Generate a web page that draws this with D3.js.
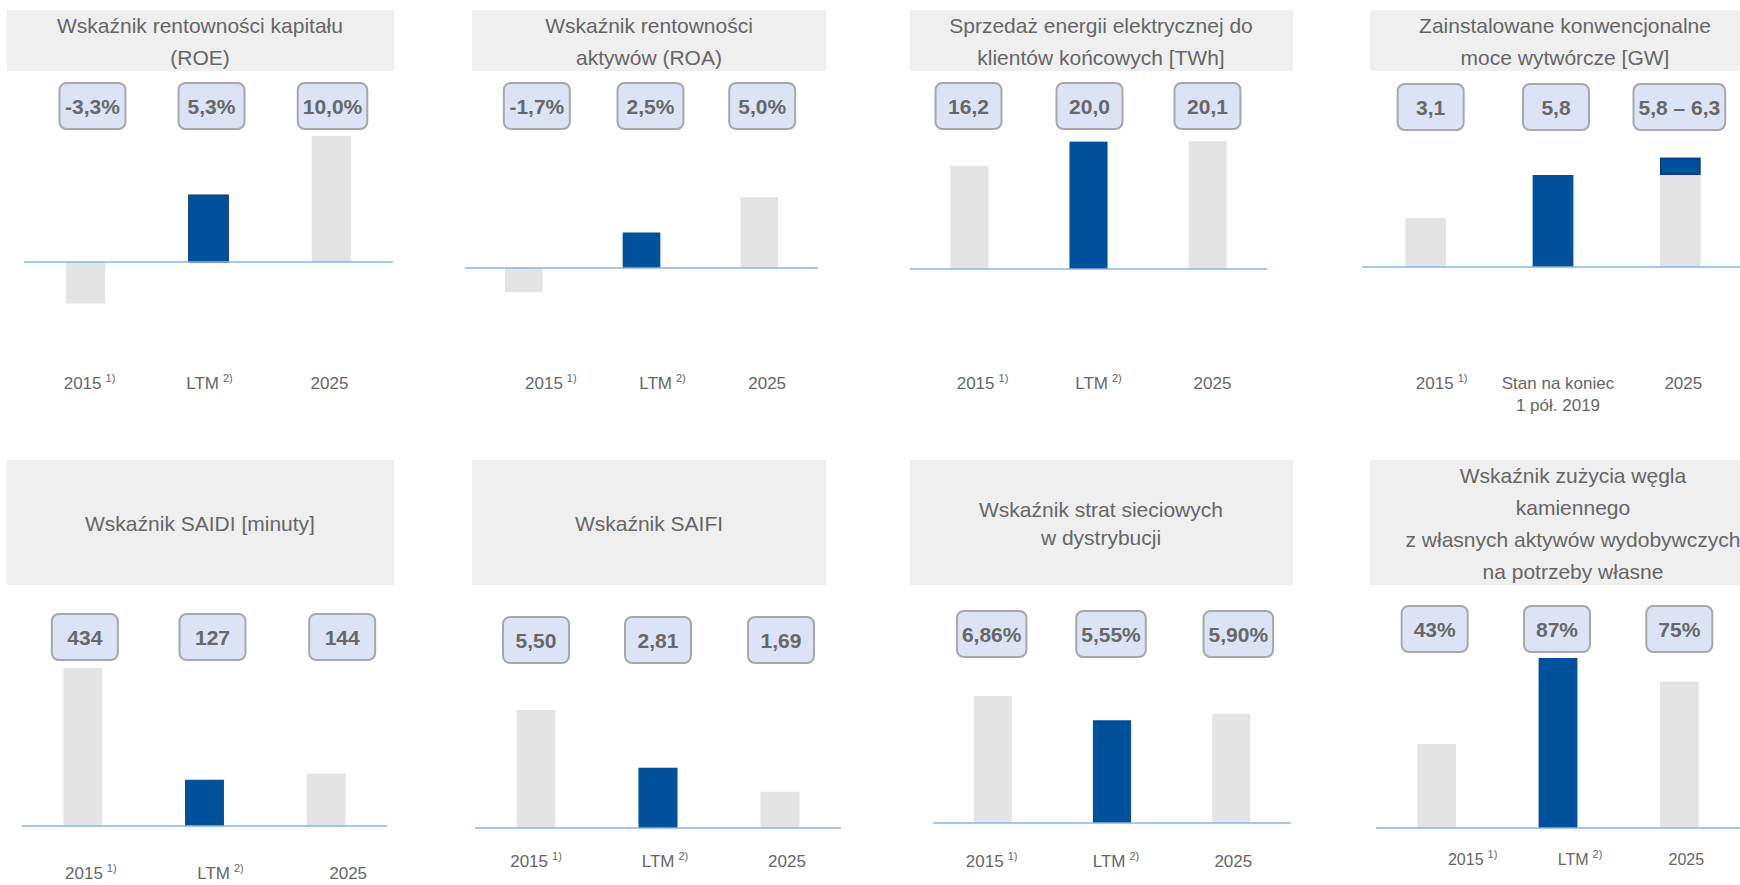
<!DOCTYPE html>
<html>
<head>
<meta charset="utf-8">
<script src="https://cdn.jsdelivr.net/npm/d3@7"></script>
<style>
  body { margin: 0; background: #fff; }
</style>
</head>
<body>
<script>
// categories shared by all eight small charts
const categories = ["2015", "LTM", "2025"];
const categoryNotes = ["1)", "2)", ""];
const capacityCategoryLines = [["2015"], ["Stan na koniec", "1 pół. 2019"], ["2025"]];

// values and their printed labels
const roeValues = [-3.3, 5.3, 10.0];
const roeLabels = ["-3,3%", "5,3%", "10,0%"];
const roaValues = [-1.7, 2.5, 5.0];
const roaLabels = ["-1,7%", "2,5%", "5,0%"];
const salesValues = [16.2, 20.0, 20.1];
const salesLabels = ["16,2", "20,0", "20,1"];
const capacityValues = [3.1, 5.8, 5.8];
const capacityRange = [5.8, 6.9]; // target range bar as drawn in the source
const capacityLabels = ["3,1", "5,8", "5,8 – 6,3"];
const saidiValues = [434, 127, 144];
const saidiLabels = ["434", "127", "144"];
const saifiValues = [5.50, 2.81, 1.69];
const saifiLabels = ["5,50", "2,81", "1,69"];
const lossValues = [6.86, 5.55, 5.90];
const lossLabels = ["6,86%", "5,55%", "5,90%"];
const coalValues = [43, 87, 75];
const coalLabels = ["43%", "87%", "75%"];

const titles = [
  ["Wskaźnik rentowności kapitału", "(ROE)"],
  ["Wskaźnik rentowności", "aktywów (ROA)"],
  ["Sprzedaż energii elektrycznej do", "klientów końcowych [TWh]"],
  ["Zainstalowane konwencjonalne", "moce wytwórcze [GW]"],
  ["Wskaźnik SAIDI [minuty]"],
  ["Wskaźnik SAIFI"],
  ["Wskaźnik strat sieciowych", "w dystrybucji"],
  ["Wskaźnik zużycia węgla", "kamiennego", "z własnych aktywów wydobywczych", "na potrzeby własne"]
];

const W = 1740, H = 885;
const blue = "#00519b", grey = "#e4e4e4", textGrey = "#666666";

// layout of each panel (pixels)
const panels = [
  { title: titles[0], values: roeValues, labels: roeLabels, box: [7, 394, 10, 71], titleX: 200, lineH: 32,
    xr: [24, 393], base: 262, top: 136, labelY: 106, labelDx: [7, 3, 1], catY: 389, catDx: [4, 1, -2], outline: true },
  { title: titles[1], values: roaValues, labels: roaLabels, box: [472, 826, 10, 71], titleX: 649, lineH: 32,
    xr: [465, 818], base: 268, top: 197, labelY: 106, labelDx: [13, 9, 3], catY: 389, catDx: [27, 21, 8] },
  { title: titles[2], values: salesValues, labels: salesLabels, box: [910, 1293, 10, 71], titleX: 1101, lineH: 32,
    xr: [910, 1267], base: 269, top: 141, labelY: 106, labelDx: [-1, 1, 0], catY: 389, catDx: [13, 10, 5] },
  { title: titles[3], values: capacityValues, labels: capacityLabels, box: [1370, 1760, 10, 71], titleX: 1565, lineH: 32,
    xr: [1362, 1744], base: 267, top: 175, labelY: 107, labelDx: [5, 3, -1], catY: 389, catDx: [16, 5, 3],
    range: capacityRange, catLines: capacityCategoryLines },
  { title: titles[4], values: saidiValues, labels: saidiLabels, box: [7, 394, 460, 585], titleX: 200, lineH: 32,
    xr: [22, 387], base: 826, top: 668, labelY: 637, labelDx: [2, 8, 16], catY: 879, catDx: [8, 16, 22] },
  { title: titles[5], values: saifiValues, labels: saifiLabels, box: [472, 826, 460, 585], titleX: 649, lineH: 32,
    xr: [475, 841], base: 828, top: 710, labelY: 640, labelDx: [0, 0, 1], catY: 867, catDx: [0, 7, 7] },
  { title: titles[6], values: lossValues, labels: lossLabels, box: [910, 1293, 460, 585], titleX: 1101, lineH: 28,
    xr: [933, 1291], base: 823, top: 696, labelY: 634, labelDx: [-1, -1, 7], catY: 867, catDx: [-1, 4, 2] },
  { title: titles[7], values: coalValues, labels: coalLabels, box: [1370, 1760, 460, 585], titleX: 1573, lineH: 32,
    xr: [1376, 1740], base: 828, top: 658, labelY: 629, labelDx: [-2, -1, 0], catY: 865, catDx: [36, 22, 7], catSize: 16 }
];

const svg = d3.select("body").append("svg")
  .attr("width", W)
  .attr("height", H)
  .style("font-family", "'Liberation Sans', Arial, sans-serif");

panels.forEach(p => {
  const g = svg.append("g");

  // title box
  g.append("rect")
    .attr("x", p.box[0]).attr("y", p.box[2])
    .attr("width", p.box[1] - p.box[0]).attr("height", p.box[3] - p.box[2])
    .attr("fill", "#efefef");

  const cy = (p.box[2] + p.box[3]) / 2;
  p.title.forEach((t, i) => {
    g.append("text")
      .attr("x", p.titleX)
      .attr("y", cy + (i - (p.title.length - 1) / 2) * p.lineH + 8)
      .attr("text-anchor", "middle")
      .attr("font-size", 21)
      .attr("fill", textGrey)
      .text(t);
  });

  const x = d3.scalePoint().domain(categories).range(p.xr).padding(0.5);
  const bw = x.step() * 0.32;
  const y = d3.scaleLinear().domain([0, d3.max(p.values)]).range([p.base, p.top]);

  // bars
  g.selectAll(".bar")
    .data(p.values)
    .join("rect")
    .attr("class", "bar")
    .attr("x", (d, i) => x(categories[i]) - bw / 2)
    .attr("y", d => Math.min(y(0), y(d)))
    .attr("width", bw)
    .attr("height", d => Math.abs(y(d) - y(0)))
    .attr("fill", (d, i) => i === 1 ? blue : grey)
    .attr("stroke", (d, i) => (i === 1 && p.outline) ? "#1b3c8c" : "none")
    .attr("stroke-width", 1.5);

  // range segment on top of the 2025 bar
  if (p.range) {
    g.append("rect")
      .attr("x", x(categories[2]) - bw / 2 + 1)
      .attr("y", y(p.range[1]) + 1)
      .attr("width", bw - 2)
      .attr("height", y(p.range[0]) - y(p.range[1]) - 2)
      .attr("fill", blue)
      .attr("stroke", "#123a8a")
      .attr("stroke-width", 2);
  }

  // baseline
  g.append("line")
    .attr("x1", p.xr[0]).attr("x2", p.xr[1])
    .attr("y1", y(0)).attr("y2", y(0))
    .attr("stroke", "#86b4e4")
    .attr("stroke-width", 1.5);

  // value callouts
  p.labels.forEach((lab, i) => {
    const cx = x(categories[i]) + p.labelDx[i];
    const box = g.append("rect");
    const txt = g.append("text")
      .attr("x", cx)
      .attr("y", p.labelY + 7.5)
      .attr("text-anchor", "middle")
      .attr("font-size", 21)
      .attr("font-weight", "bold")
      .attr("fill", "#686868")
      .text(lab);
    const tw = txt.node().getComputedTextLength();
    const bwid = Math.max(66, tw + 10);
    box.attr("x", cx - bwid / 2)
      .attr("y", p.labelY - 23)
      .attr("width", bwid)
      .attr("height", 46)
      .attr("rx", 7)
      .attr("fill", "#dbe3f4")
      .attr("stroke", "#a8a8a8")
      .attr("stroke-width", 2);
  });

  // category labels
  categories.forEach((c, i) => {
    const lines = p.catLines ? p.catLines[i] : [c];
    lines.forEach((ln, j) => {
      const t = g.append("text")
        .attr("x", x(c) + p.catDx[i])
        .attr("y", p.catY + j * 22)
        .attr("text-anchor", "middle")
        .attr("font-size", p.catSize || 17)
        .attr("fill", textGrey)
        .text(ln);
      if (j === 0 && categoryNotes[i] && !(p.catLines && i === 1)) {
        t.append("tspan")
          .attr("dx", 4)
          .attr("dy", -7)
          .attr("font-size", 11)
          .text(categoryNotes[i]);
      }
    });
  });
});
</script>
</body>
</html>
